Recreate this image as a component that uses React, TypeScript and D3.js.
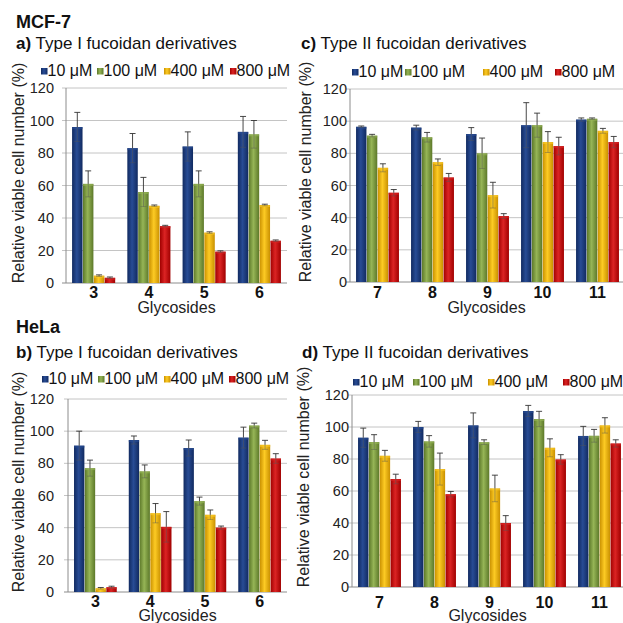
import React from "react";
import * as d3 from "d3";

const seriesLabels = ["10 μM", "100 μM", "400 μM", "800 μM"];
const catsType1 = ["3", "4", "5", "6"];
const catsType2 = ["7", "8", "9", "10", "11"];
const yTicks = [0, 20, 40, 60, 80, 100, 120];

// MCF-7, Type I (a)
const mcfI_10 = [96, 83, 84, 93];
const mcfI_100 = [61, 56, 61, 91.5];
const mcfI_400 = [4.5, 47.5, 31, 48];
const mcfI_800 = [3.2, 35, 19.3, 26];
const mcfI_10e = [9, 9, 9, 9.5];
const mcfI_100e = [8, 9, 8, 8.5];
const mcfI_400e = [0.5, 0.5, 0.5, 0.5];
const mcfI_800e = [0.5, 0.5, 0.5, 0.5];

// MCF-7, Type II (c)
const mcfII_10 = [96.5, 96, 92, 97.5, 101];
const mcfII_100 = [91, 90, 80, 97.5, 101.5];
const mcfII_400 = [71, 74.5, 54, 87, 94];
const mcfII_800 = [55.5, 65, 41, 84.5, 87];
const mcfII_10e = [0.5, 1.5, 4, 14, 1];
const mcfII_100e = [0.8, 3, 9.5, 7.5, 0.5];
const mcfII_400e = [2.5, 2, 8, 6.5, 1.5];
const mcfII_800e = [2, 2.5, 1.5, 5.5, 3.5];

// HeLa, Type I (b)
const helaI_10 = [91, 94.5, 89.5, 96];
const helaI_100 = [77, 75, 56.5, 103.5];
const helaI_400 = [2.3, 49, 48, 91.5];
const helaI_800 = [3, 40.5, 40, 83];
const helaI_10e = [9, 2.5, 5, 6.5];
const helaI_100e = [5, 4, 2.5, 1.5];
const helaI_400e = [0.5, 6, 3, 2.8];
const helaI_800e = [0.6, 9.5, 1, 3];

// HeLa, Type II (d)
const helaII_10 = [93.3, 100, 101, 110, 94.4];
const helaII_100 = [90.6, 91, 90.5, 105, 94.5];
const helaII_400 = [82, 73.7, 61.6, 87, 101];
const helaII_800 = [67.5, 58, 40, 79.7, 89.7];
const helaII_10e = [6, 3.5, 7.8, 3.5, 6];
const helaII_100e = [4.6, 3.6, 1.5, 4.8, 4];
const helaII_400e = [3.4, 10, 8.3, 5.6, 4.8];
const helaII_800e = [3, 1.7, 4.6, 3, 2.3];

const colors = [
  { edge: "#112a60", mid: "#284c95", id: "gBlue" },
  { edge: "#5c7829", mid: "#96b556", id: "gGreen" },
  { edge: "#c99000", mid: "#fdcb24", id: "gYellow" },
  { edge: "#a00000", mid: "#dc2424", id: "gRed" },
];

const FONT = "'Liberation Sans', Arial, sans-serif";

type PanelProps = {
  cats: string[];
  values: number[][];
  errs: number[][];
  left: number;
  right: number;
  top: number;
  bottom: number;
  titleX: number;
  titleY: number;
  letter: string;
  title: string;
  legendY: number;
  legendX: number[];
  yTitleX: number;
  tickRight: number;
  catY: number;
  xTitleY: number;
};

function Panel(p: PanelProps) {
  const x0 = d3
    .scaleBand<string>()
    .domain(p.cats)
    .range([p.left, p.right])
    .paddingInner(0.22)
    .paddingOuter(0.11);
  const x1 = d3
    .scaleBand<number>()
    .domain(d3.range(seriesLabels.length))
    .range([0, x0.bandwidth()])
    .paddingInner(0.04);
  const y = d3.scaleLinear().domain([0, 120]).range([p.bottom, p.top]);
  const fullStep = (p.right - p.left) / p.cats.length;
  const yTitleCenter = p.bottom - 110;

  return (
    <g fontFamily={FONT}>
      <text x={p.titleX} y={p.titleY} fontSize={17} fill="#111">
        <tspan fontWeight="bold">{p.letter}</tspan>
        <tspan> {p.title}</tspan>
      </text>
      {seriesLabels.map((s, i) => (
        <g key={s}>
          <rect
            x={p.legendX[i]}
            y={p.legendY - 8}
            width={6.5}
            height={6.5}
            fill={`url(#${colors[i].id})`}
          />
          <text x={p.legendX[i] + 6.5} y={p.legendY} fontSize={16} fill="#111">
            {s}
          </text>
        </g>
      ))}
      {yTicks.map((t) => (
        <g key={t}>
          <line
            x1={p.left - 4}
            x2={p.right}
            y1={y(t)}
            y2={y(t)}
            stroke={t === 0 ? "#8c8c8c" : "#c4c4c4"}
            strokeWidth={1}
          />
          <text
            x={p.tickRight}
            y={y(t) + 5}
            fontSize={14.5}
            textAnchor="end"
            fill="#222"
          >
            {t}
          </text>
        </g>
      ))}
      <line x1={p.left} x2={p.left} y1={p.top} y2={p.bottom} stroke="#8c8c8c" />
      <text
        transform={`translate(${p.yTitleX},${yTitleCenter}) rotate(-90)`}
        textAnchor="middle"
        fontSize={16}
        fill="#222"
      >
        Relative viable cell number (%)
      </text>
      {p.cats.map((c, ci) => (
        <g key={c}>
          {p.values.map((vals, si) => {
            const bx = (x0(c) as number) + (x1(si) as number);
            const bw = x1.bandwidth();
            const v = vals[ci];
            const e = p.errs[si][ci];
            const cx = bx + bw / 2;
            return (
              <g key={si}>
                <rect
                  x={bx}
                  y={y(v)}
                  width={bw}
                  height={y(0) - y(v)}
                  fill={`url(#${colors[si].id})`}
                />
                <rect
                  x={bx}
                  y={y(v)}
                  width={bw}
                  height={Math.min(2, y(0) - y(v))}
                  fill={colors[si].mid}
                  opacity={0.6}
                />
                <line x1={cx} x2={cx} y1={y(v + e)} y2={y(v)} stroke="#333" strokeWidth={0.9} />
                <line x1={cx} x2={cx} y1={y(v)} y2={y(Math.max(0, v - e))} stroke="#555" strokeWidth={0.7} opacity={0.7} />
                <line x1={cx - 3} x2={cx + 3} y1={y(v + e)} y2={y(v + e)} stroke="#333" strokeWidth={0.9} />
                <line x1={cx - 3} x2={cx + 3} y1={y(Math.max(0, v - e))} y2={y(Math.max(0, v - e))} stroke="#555" strokeWidth={0.7} opacity={0.6} />
              </g>
            );
          })}
          <text
            x={p.left + fullStep * (ci + 0.5)}
            y={p.catY}
            textAnchor="middle"
            fontSize={16}
            fontWeight="bold"
            fill="#111"
          >
            {c}
          </text>
        </g>
      ))}
      <text
        x={(p.left + Math.min(p.right, 623)) / 2}
        y={p.xTitleY}
        textAnchor="middle"
        fontSize={16}
        fill="#222"
      >
        Glycosides
      </text>
    </g>
  );
}

export default function App() {
  return (
    <div style={{ position: "absolute", left: 0, top: 0 }}>
      <svg width={623} height={623} style={{ display: "block", background: "#fff" }}>
        <defs>
          {colors.map((c) => (
            <linearGradient key={c.id} id={c.id} x1="0" x2="1" y1="0" y2="0">
              <stop offset="0%" stopColor={c.edge} />
              <stop offset="45%" stopColor={c.mid} />
              <stop offset="100%" stopColor={c.edge} />
            </linearGradient>
          ))}
        </defs>
        <text x={16} y={28} fontFamily={FONT} fontSize={18} fontWeight="bold" fill="#111">
          MCF-7
        </text>
        <text x={16} y={333} fontFamily={FONT} fontSize={18} fontWeight="bold" fill="#111">
          HeLa
        </text>
        <Panel
          cats={catsType1}
          values={[mcfI_10, mcfI_100, mcfI_400, mcfI_800]}
          errs={[mcfI_10e, mcfI_100e, mcfI_400e, mcfI_800e]}
          left={66}
          right={287}
          top={88}
          bottom={283}
          titleX={16}
          titleY={49}
          letter="a)"
          title="Type I fucoidan derivatives"
          legendY={76}
          legendX={[41, 97, 164, 230]}
          yTitleX={24}
          tickRight={54}
          catY={298}
          xTitleY={313}
        />
        <Panel
          cats={catsType2}
          values={[mcfII_10, mcfII_100, mcfII_400, mcfII_800]}
          errs={[mcfII_10e, mcfII_100e, mcfII_400e, mcfII_800e]}
          left={350}
          right={625}
          top={89}
          bottom={282}
          titleX={301}
          titleY={49}
          letter="c)"
          title="Type II fucoidan derivatives"
          legendY={77}
          legendX={[352, 405, 483, 555]}
          yTitleX={311}
          tickRight={347}
          catY={298}
          xTitleY={313}
        />
        <Panel
          cats={catsType1}
          values={[helaI_10, helaI_100, helaI_400, helaI_800]}
          errs={[helaI_10e, helaI_100e, helaI_400e, helaI_800e]}
          left={68}
          right={287}
          top={399}
          bottom={592}
          titleX={16}
          titleY={358}
          letter="b)"
          title="Type I fucoidan derivatives"
          legendY={384}
          legendX={[42, 98, 164, 229]}
          yTitleX={24}
          tickRight={54}
          catY={607}
          xTitleY={621}
        />
        <Panel
          cats={catsType2}
          values={[helaII_10, helaII_100, helaII_400, helaII_800]}
          errs={[helaII_10e, helaII_100e, helaII_400e, helaII_800e]}
          left={352}
          right={627}
          top={395}
          bottom={587}
          titleX={302}
          titleY={358}
          letter="d)"
          title="Type II fucoidan derivatives"
          legendY={387}
          legendX={[353, 413, 488, 563]}
          yTitleX={309}
          tickRight={349}
          catY={608}
          xTitleY={621}
        />
      </svg>
    </div>
  );
}
